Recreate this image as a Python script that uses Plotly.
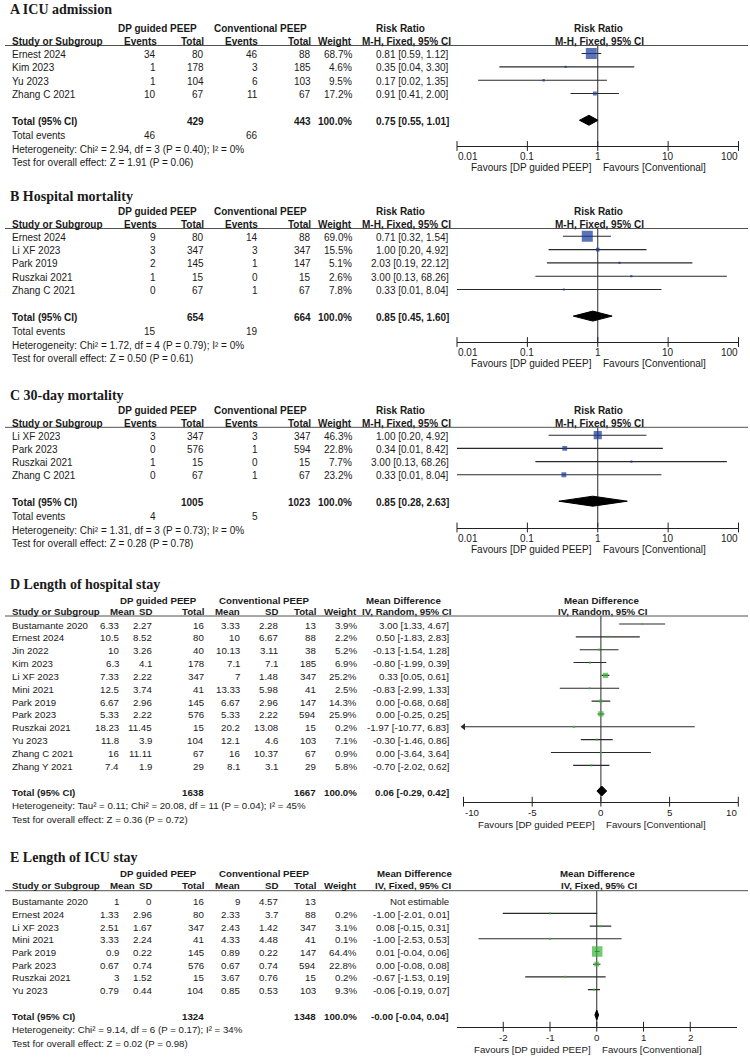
import math
import plotly.graph_objects as go

W, H = 750, 1057

# ================= DATA =================
# ---- A: ICU admission (Risk Ratio, M-H, Fixed) ----
A_title = "A ICU admission"
A_studies = ["Ernest 2024", "Kim 2023", "Yu 2023", "Zhang C 2021"]
A_ev_dp = [34, 1, 1, 10]
A_n_dp = [80, 178, 104, 67]
A_ev_cv = [46, 3, 6, 11]
A_n_cv = [88, 185, 103, 67]
A_weight = [68.7, 4.6, 9.5, 17.2]
A_est = [0.81, 0.35, 0.17, 0.91]
A_lo = [0.59, 0.04, 0.02, 0.41]
A_hi = [1.12, 3.30, 1.35, 2.00]
A_total_n = [429, 443]
A_total_events = [46, 66]
A_pooled = [0.75, 0.55, 1.01]
A_het = "Heterogeneity: Chi² = 2.94, df = 3 (P = 0.40); I² = 0%"
A_test = "Test for overall effect: Z = 1.91 (P = 0.06)"

# ---- B: Hospital mortality ----
B_title = "B Hospital mortality"
B_studies = ["Ernest 2024", "Li XF 2023", "Park 2019", "Ruszkai 2021", "Zhang C 2021"]
B_ev_dp = [9, 3, 2, 1, 0]
B_n_dp = [80, 347, 145, 15, 67]
B_ev_cv = [14, 3, 1, 0, 1]
B_n_cv = [88, 347, 147, 15, 67]
B_weight = [69.0, 15.5, 5.1, 2.6, 7.8]
B_est = [0.71, 1.00, 2.03, 3.00, 0.33]
B_lo = [0.32, 0.20, 0.19, 0.13, 0.01]
B_hi = [1.54, 4.92, 22.12, 68.26, 8.04]
B_total_n = [654, 664]
B_total_events = [15, 19]
B_pooled = [0.85, 0.45, 1.60]
B_het = "Heterogeneity: Chi² = 1.72, df = 4 (P = 0.79); I² = 0%"
B_test = "Test for overall effect: Z = 0.50 (P = 0.61)"

# ---- C: 30-day mortality ----
C_title = "C 30-day mortality"
C_studies = ["Li XF 2023", "Park 2023", "Ruszkai 2021", "Zhang C 2021"]
C_ev_dp = [3, 0, 1, 0]
C_n_dp = [347, 576, 15, 67]
C_ev_cv = [3, 1, 0, 1]
C_n_cv = [347, 594, 15, 67]
C_weight = [46.3, 22.8, 7.7, 23.2]
C_est = [1.00, 0.34, 3.00, 0.33]
C_lo = [0.20, 0.01, 0.13, 0.01]
C_hi = [4.92, 8.42, 68.26, 8.04]
C_total_n = [1005, 1023]
C_total_events = [4, 5]
C_pooled = [0.85, 0.28, 2.63]
C_het = "Heterogeneity: Chi² = 1.31, df = 3 (P = 0.73); I² = 0%"
C_test = "Test for overall effect: Z = 0.28 (P = 0.78)"

RR_tickvals = [0.01, 0.1, 1, 10, 100]
RR_ticktext = ["0.01", "0.1", "1", "10", "100"]

# ---- D: Length of hospital stay (Mean Difference, IV, Random) ----
D_title = "D Length of hospital stay"
D_studies = ["Bustamante 2020", "Ernest 2024", "Jin 2022", "Kim 2023", "Li XF 2023",
             "Mini 2021", "Park 2019", "Park 2023", "Ruszkai 2021", "Yu 2023",
             "Zhang C 2021", "Zhang Y 2021"]
D_mean_dp = [6.33, 10.5, 10, 6.3, 7.33, 12.5, 6.67, 5.33, 18.23, 11.8, 16, 7.4]
D_sd_dp = [2.27, 8.52, 3.26, 4.1, 2.22, 3.74, 2.96, 2.22, 11.45, 3.9, 11.11, 1.9]
D_n_dp = [16, 80, 40, 178, 347, 41, 145, 576, 15, 104, 67, 29]
D_mean_cv = [3.33, 10, 10.13, 7.1, 7, 13.33, 6.67, 5.33, 20.2, 12.1, 16, 8.1]
D_sd_cv = [2.28, 6.67, 3.11, 7.1, 1.48, 5.98, 2.96, 2.22, 13.08, 4.6, 10.37, 3.1]
D_n_cv = [13, 88, 38, 185, 347, 41, 147, 594, 15, 103, 67, 29]
D_weight = [3.9, 2.2, 5.2, 6.9, 25.2, 2.5, 14.3, 25.9, 0.2, 7.1, 0.9, 5.8]
D_est = [3.00, 0.50, -0.13, -0.80, 0.33, -0.83, 0.00, 0.00, -1.97, -0.30, 0.00, -0.70]
D_lo = [1.33, -1.83, -1.54, -1.99, 0.05, -2.99, -0.68, -0.25, -10.77, -1.46, -3.64, -2.02]
D_hi = [4.67, 2.83, 1.28, 0.39, 0.61, 1.33, 0.68, 0.25, 6.83, 0.86, 3.64, 0.62]
D_total_n = [1638, 1667]
D_pooled = [0.06, -0.29, 0.42]
D_het = "Heterogeneity: Tau² = 0.11; Chi² = 20.08, df = 11 (P = 0.04); I² = 45%"
D_test = "Test for overall effect: Z = 0.36 (P = 0.72)"
D_tickvals = [-10, -5, 0, 5, 10]
D_ticktext = ["-10", "-5", "0", "5", "10"]

# ---- E: Length of ICU stay (Mean Difference, IV, Fixed) ----
E_title = "E Length of ICU stay"
E_studies = ["Bustamante 2020", "Ernest 2024", "Li XF 2023", "Mini 2021",
             "Park 2019", "Park 2023", "Ruszkai 2021", "Yu 2023"]
E_mean_dp = [1, 1.33, 2.51, 3.33, 0.9, 0.67, 3, 0.79]
E_sd_dp = [0, 2.96, 1.67, 2.24, 0.22, 0.74, 1.52, 0.44]
E_n_dp = [16, 80, 347, 41, 145, 576, 15, 104]
E_mean_cv = [9, 2.33, 2.43, 4.33, 0.89, 0.67, 3.67, 0.85]
E_sd_cv = [4.57, 3.7, 1.42, 4.48, 0.22, 0.74, 0.76, 0.53]
E_n_cv = [13, 88, 347, 41, 147, 594, 15, 103]
E_weight = [None, 0.2, 3.1, 0.1, 64.4, 22.8, 0.2, 9.3]
E_est = [None, -1.00, 0.08, -1.00, 0.01, 0.00, -0.67, -0.06]
E_lo = [None, -2.01, -0.15, -2.53, -0.04, -0.08, -1.53, -0.19]
E_hi = [None, 0.01, 0.31, 0.53, 0.06, 0.08, 0.19, 0.07]
E_total_n = [1324, 1348]
E_pooled = [-0.00, -0.04, 0.04]
E_het = "Heterogeneity: Chi² = 9.14, df = 6 (P = 0.17); I² = 34%"
E_test = "Test for overall effect: Z = 0.02 (P = 0.98)"
E_tickvals = [-2, -1, 0, 1, 2]
E_ticktext = ["-2", "-1", "0", "1", "2"]

FAV_L = "Favours [DP guided PEEP]"
FAV_R = "Favours [Conventional]"

# ================= STYLE / GEOMETRY =================
SANS = "Liberation Sans, Arial, sans-serif"
SERIF = "Liberation Serif, Times New Roman, serif"
TXT = "#1a1a1a"
LINE = "#2a2a2a"
BLUE = "#16399a"
GREEN = "#36b536"

ann = []
shapes = []
fig = go.Figure()


def put(x, y, s, anchor="left", bold=False, size=10, family=SANS):
    if bold:
        s = "<b>" + s + "</b>"
    ann.append(dict(x=x / W, y=1 - y / H, xref="paper", yref="paper", text=s,
                    showarrow=False, xanchor=anchor, yanchor="middle",
                    borderpad=0, borderwidth=0,
                    font=dict(family=family, size=size, color=TXT)))


def fmt(v):
    return "{:g}".format(v)


def ci_txt(e, l, h):
    return "{:.2f} [{:.2f}, {:.2f}]".format(e, l, h)


panels = [
    dict(kind="bin", title=A_title, studies=A_studies, c1=A_ev_dp, c2=A_n_dp, c3=A_ev_cv, c4=A_n_cv,
         w=A_weight, est=A_est, lo=A_lo, hi=A_hi, tot=A_total_n, tev=A_total_events, pooled=A_pooled,
         het=A_het, test=A_test, log=True, xr=(0.01, 100), tv=RR_tickvals, tt=RR_ticktext, null=1,
         color=BLUE, h1lab="Risk Ratio", method="M-H, Fixed, 95% CI",
         g=dict(title=10, h1=28.5, h2=41.7, line=45.5, row0=53.5, step=13.35, axis=146,
                x0=457, x1=738.5, h1x=401, mx=451, manchor="right", fs=10)),
    dict(kind="bin", title=B_title, studies=B_studies, c1=B_ev_dp, c2=B_n_dp, c3=B_ev_cv, c4=B_n_cv,
         w=B_weight, est=B_est, lo=B_lo, hi=B_hi, tot=B_total_n, tev=B_total_events, pooled=B_pooled,
         het=B_het, test=B_test, log=True, xr=(0.01, 100), tv=RR_tickvals, tt=RR_ticktext, null=1,
         color=BLUE, h1lab="Risk Ratio", method="M-H, Fixed, 95% CI",
         g=dict(title=196, h1=211.7, h2=224.7, line=228.5, row0=236.3, step=13.3, axis=342,
                x0=457, x1=738.5, h1x=401, mx=451, manchor="right", fs=10)),
    dict(kind="bin", title=C_title, studies=C_studies, c1=C_ev_dp, c2=C_n_dp, c3=C_ev_cv, c4=C_n_cv,
         w=C_weight, est=C_est, lo=C_lo, hi=C_hi, tot=C_total_n, tev=C_total_events, pooled=C_pooled,
         het=C_het, test=C_test, log=True, xr=(0.01, 100), tv=RR_tickvals, tt=RR_ticktext, null=1,
         color=BLUE, h1lab="Risk Ratio", method="M-H, Fixed, 95% CI",
         g=dict(title=395, h1=410.5, h2=423.5, line=427.3, row0=435.2, step=13.2, axis=527.5,
                x0=457, x1=738.5, h1x=401, mx=451, manchor="right", fs=10)),
    dict(kind="cont", title=D_title, studies=D_studies, m1=D_mean_dp, s1=D_sd_dp, n1=D_n_dp,
         m2=D_mean_cv, s2=D_sd_cv, n2=D_n_cv,
         w=D_weight, est=D_est, lo=D_lo, hi=D_hi, tot=D_total_n, pooled=D_pooled,
         het=D_het, test=D_test, log=False, xr=(-10, 10), tv=D_tickvals, tt=D_ticktext, null=0,
         color=GREEN, h1lab="Mean Difference", method="IV, Random, 95% CI",
         g=dict(title=584, h1=600, h2=611.7, line=616, row0=624, step=12.85, axis=801.7,
                x0=463.5, x1=738.3, h1x=403, mx=407, manchor="center", fs=9.7)),
    dict(kind="cont", title=E_title, studies=E_studies, m1=E_mean_dp, s1=E_sd_dp, n1=E_n_dp,
         m2=E_mean_cv, s2=E_sd_cv, n2=E_n_cv,
         w=E_weight, est=E_est, lo=E_lo, hi=E_hi, tot=E_total_n, pooled=E_pooled,
         het=E_het, test=E_test, log=False, xr=(-3, 3), tv=E_tickvals, tt=E_ticktext, null=0,
         color=GREEN, h1lab="Mean Difference", method="IV, Fixed, 95% CI",
         g=dict(title=857, h1=873, h2=885.5, line=890.7, row0=900.7, step=12.7, axis=1026.7,
                x0=456.5, x1=737, h1x=414, mx=451, manchor="right", fs=9.7)),
]

layout_axes = {}
for k, p in enumerate(panels, start=1):
    g = p["g"]
    fs = g["fs"]
    n = len(p["studies"])
    rowpx = lambda r, g=g: g["row0"] + r * g["step"]
    tpx = lambda r, g=g: g["row0"] + r * g["step"] + 1.0   # text baseline tweak
    xa = "x" if k == 1 else "x%d" % k
    ya = "y" if k == 1 else "y%d" % k
    line_row = (g["line"] - g["row0"]) / g["step"]
    axis_row = (g["axis"] - g["row0"]) / g["step"]

    # ---- title ----
    put(10, g["title"], p["title"], bold=True, size=14, family=SERIF)

    # ---- headers ----
    if p["kind"] == "bin":
        put(157, g["h1"], "DP guided PEEP", "center", True, fs)
        put(260, g["h1"], "Conventional PEEP", "center", True, fs)
        put(g["h1x"], g["h1"], p["h1lab"], "center", True, fs)
        put(12, g["h2"], "Study or Subgroup", "left", True, fs)
        for xx, lab in [(157, "Events"), (204, "Total"), (258, "Events"), (311, "Total"), (352, "Weight")]:
            put(xx, g["h2"], lab, "right", True, fs)
    else:
        put(158.5, g["h1"], "DP guided PEEP", "center", True, fs)
        put(264, g["h1"], "Conventional PEEP", "center", True, fs)
        put(g["h1x"], g["h1"], p["h1lab"], "center", True, fs)
        put(12, g["h2"], "Study or Subgroup", "left", True, fs)
        for xx, lab in [(135, "Mean"), (152, "SD"), (204, "Total"), (240, "Mean"), (278, "SD"),
                        (316, "Total"), (357, "Weight")]:
            put(xx, g["h2"], lab, "right", True, fs)
    put(g["mx"], g["h2"], p["method"], g["manchor"], True, fs)

    # right-side header over plot (centred on the line of no effect)
    if p["log"]:
        frac = (math.log10(p["null"]) - math.log10(p["xr"][0])) / (math.log10(p["xr"][1]) - math.log10(p["xr"][0]))
    else:
        frac = (p["null"] - p["xr"][0]) / (p["xr"][1] - p["xr"][0])
    nullpx = g["x0"] + (g["x1"] - g["x0"]) * frac
    put(nullpx + 1, g["h1"], p["h1lab"], "center", True, fs)
    put(nullpx + 2, g["h2"], p["method"], "center", True, fs)

    # header rule
    shapes.append(dict(type="line", xref="paper", yref="paper", x0=5 / W, x1=748 / W,
                       y0=1 - g["line"] / H, y1=1 - g["line"] / H,
                       line=dict(color="#505050", width=1)))

    # ---- study rows ----
    for i, s in enumerate(p["studies"]):
        y = tpx(i)
        put(12, y, s, size=fs)
        if p["kind"] == "bin":
            put(156, y, str(p["c1"][i]), "right", size=fs)
            put(204, y, str(p["c2"][i]), "right", size=fs)
            put(258, y, str(p["c3"][i]), "right", size=fs)
            put(311, y, str(p["c4"][i]), "right", size=fs)
            put(352, y, "{:.1f}%".format(p["w"][i]), "right", size=fs)
            put(449, y, ci_txt(p["est"][i], p["lo"][i], p["hi"][i]), "right", size=fs)
        else:
            put(119, y, fmt(p["m1"][i]), "right", size=fs)
            put(151.5, y, fmt(p["s1"][i]), "right", size=fs)
            put(204, y, str(p["n1"][i]), "right", size=fs)
            put(240, y, fmt(p["m2"][i]), "right", size=fs)
            put(278, y, fmt(p["s2"][i]), "right", size=fs)
            put(316, y, str(p["n2"][i]), "right", size=fs)
            if p["w"][i] is not None:
                put(357, y, "{:.1f}%".format(p["w"][i]), "right", size=fs)
                put(449, y, ci_txt(p["est"][i], p["lo"][i], p["hi"][i]), "right", size=fs)
            else:
                put(449, y, "Not estimable", "right", size=fs)

    # ---- totals ----
    tr = n + 1
    yt = tpx(tr)
    put(12, yt, "Total (95% CI)", "left", True, fs)
    if p["kind"] == "bin":
        put(204, yt, str(p["tot"][0]), "right", True, fs)
        put(311, yt, str(p["tot"][1]), "right", True, fs)
        put(352, yt, "100.0%", "right", True, fs)
        put(449, yt, ci_txt(*p["pooled"]), "right", True, fs)
        put(12, yt + 14.5, "Total events", size=fs)
        put(156, yt + 14.5, str(p["tev"][0]), "right", size=fs)
        put(258, yt + 14.5, str(p["tev"][1]), "right", size=fs)
        put(12, yt + 28, p["het"], size=fs)
        put(12, yt + 41.5, p["test"], size=fs)
        fav_y = g["axis"] + 21.5
    else:
        put(204, yt, str(p["tot"][0]), "right", True, fs)
        put(316, yt, str(p["tot"][1]), "right", True, fs)
        put(357, yt, "100.0%", "right", True, fs)
        put(449, yt, ci_txt(*p["pooled"]), "right", True, fs)
        put(12, yt + 13.5, p["het"], size=fs)
        put(12, yt + 27, p["test"], size=fs)
        fav_y = g["axis"] + 23

    # favours labels
    put(nullpx - 6, fav_y, FAV_L, "right", size=fs)
    put(nullpx + 5, fav_y, FAV_R, "left", size=fs)

    # ---- axes ----
    xmin, xmax = p["xr"]
    xrange = [math.log10(xmin), math.log10(xmax)] if p["log"] else [xmin, xmax]
    layout_axes["xaxis" if k == 1 else "xaxis%d" % k] = dict(
        domain=[g["x0"] / W, g["x1"] / W], anchor=ya, type="log" if p["log"] else "linear",
        range=xrange, showline=True, linecolor="#222222", linewidth=1, ticks="",
        showticklabels=False, showgrid=False, zeroline=False, fixedrange=True)
    layout_axes["yaxis" if k == 1 else "yaxis%d" % k] = dict(
        domain=[1 - g["axis"] / H, 1 - g["line"] / H], anchor=xa,
        range=[axis_row, line_row], showline=False, showticklabels=False,
        showgrid=False, zeroline=False, ticks="", fixedrange=True)

    # tick labels (end labels kept inside the axis, as in RevMan)
    for v, t in zip(p["tv"], p["tt"]):
        anchor = "center"
        if v == xmin:
            anchor = "left"
        elif v == xmax:
            anchor = "right"
        ann.append(dict(x=math.log10(v) if p["log"] else v, y=1 - (g["axis"] + 10.5) / H,
                        xref=xa, yref="paper", text=t, showarrow=False, xanchor=anchor,
                        yanchor="middle", borderpad=0,
                        font=dict(family=SANS, size=fs, color=TXT)))

    # line of no effect
    fig.add_trace(go.Scatter(x=[p["null"], p["null"]], y=[line_row, axis_row], mode="lines",
                             line=dict(color=LINE, width=1), xaxis=xa, yaxis=ya,
                             hoverinfo="skip", showlegend=False))
    # tick marks
    fig.add_trace(go.Scatter(x=p["tv"], y=[axis_row] * len(p["tv"]), mode="markers",
                             marker=dict(symbol="line-ns", size=7, line=dict(color="#222222", width=1)),
                             xaxis=xa, yaxis=ya, cliponaxis=False, hoverinfo="skip", showlegend=False))

    # CI lines
    cx, cy = [], []
    arrows_x, arrows_y = [], []
    for i in range(n):
        if p["est"][i] is None:
            continue
        cx += [p["lo"][i], p["hi"][i], None]
        cy += [i, i, None]
        if p["lo"][i] < xmin:
            arrows_x.append(xmin)
            arrows_y.append(i)
    fig.add_trace(go.Scatter(x=cx, y=cy, mode="lines", line=dict(color=LINE, width=1.1),
                             xaxis=xa, yaxis=ya, hoverinfo="skip", showlegend=False))
    if arrows_x:
        fig.add_trace(go.Scatter(x=arrows_x, y=arrows_y, mode="markers",
                                 marker=dict(symbol="triangle-left", size=6, color=LINE),
                                 xaxis=xa, yaxis=ya, cliponaxis=False, hoverinfo="skip", showlegend=False))

    # squares (size grows with weight)
    sx, sy, ss = [], [], []
    for i in range(n):
        if p["est"][i] is None:
            continue
        sx.append(p["est"][i])
        sy.append(i)
        ss.append(max(2.2, 0.46 * p["w"][i] ** 0.75))
    fig.add_trace(go.Scatter(x=sx, y=sy, mode="markers",
                             marker=dict(symbol="square", size=ss, color=p["color"], line=dict(width=0)),
                             xaxis=xa, yaxis=ya, hoverinfo="skip", showlegend=False))

    # pooled diamond
    est, lo, hi = p["pooled"]
    hh = 5.0 / g["step"]
    fig.add_trace(go.Scatter(x=[lo, est, hi, est, lo], y=[tr, tr - hh, tr, tr + hh, tr],
                             mode="lines", fill="toself", fillcolor="#000000",
                             line=dict(color="#000000", width=1),
                             xaxis=xa, yaxis=ya, hoverinfo="skip", showlegend=False))

fig.update_layout(
    width=W, height=H, autosize=False,
    margin=dict(l=0, r=0, t=0, b=0, pad=0),
    paper_bgcolor="white", plot_bgcolor="rgba(0,0,0,0)",
    showlegend=False, annotations=ann, shapes=shapes,
    font=dict(family=SANS, size=10, color=TXT),
    **layout_axes,
)

fig.write_html("out.html", config={"displayModeBar": False},
               post_script="document.body.style.margin='0';")
